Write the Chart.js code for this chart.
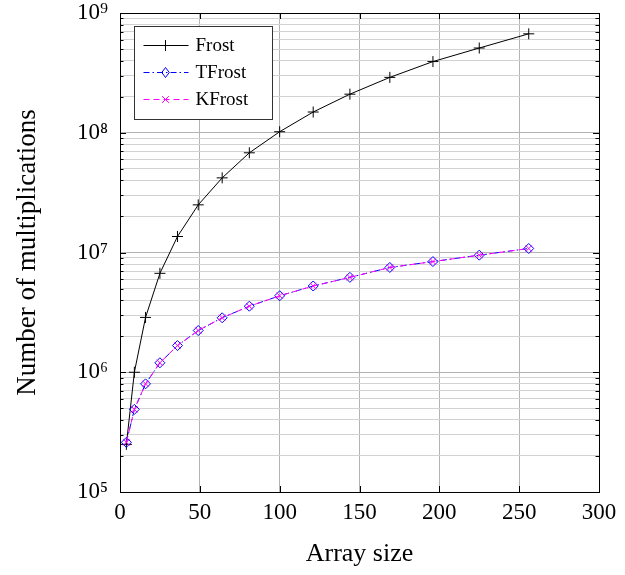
<!DOCTYPE html>
<html>
<head>
    <title>Number of multiplications vs array size</title>
    <script src="https://cdn.jsdelivr.net/npm/chart.js"></script>
    <style>
        body { margin: 0; background: #fff; }
    </style>
</head>
<body>
    <canvas id="multChart" width="625" height="575"></canvas>
<script>
    // values
    var arraySizes = [4, 9, 16, 25, 36, 49, 64, 81, 100, 121, 144, 169, 196, 225, 256];
    var frost  = [2.5e5, 1.0e6, 2.87e6, 6.7e6, 1.36e7, 2.5e7, 4.2e7, 6.8e7, 1.02e8, 1.49e8, 2.1e8, 2.9e8, 3.93e8, 5.1e8, 6.7e8];
    var tfrost = [2.6e5, 4.9e5, 8.0e5, 1.2e6, 1.67e6, 2.23e6, 2.85e6, 3.56e6, 4.35e6, 5.25e6, 6.2e6, 7.5e6, 8.4e6, 9.5e6, 1.08e7];
    var kfrost = [2.6e5, 4.9e5, 8.0e5, 1.2e6, 1.67e6, 2.23e6, 2.85e6, 3.56e6, 4.35e6, 5.25e6, 6.2e6, 7.5e6, 8.4e6, 9.5e6, 1.08e7];
    var yExponents = [5, 6, 7, 8, 9];
    var xTickValues = [0, 50, 100, 150, 200, 250, 300];

    var SERIF = "'Liberation Serif', 'DejaVu Serif', serif";
    var SUP = ['⁰', '¹', '²', '³', '⁴', '⁵', '⁶', '⁷', '⁸', '⁹'];

    function pairs(ys) {
        return arraySizes.map(function (x, i) { return {x: x, y: ys[i]}; });
    }

    function isDecade(v) {
        var e = Math.log10(v);
        return Math.abs(e - Math.round(e)) < 1e-9;
    }

    function drawMarker(ctx, style, x, y, r, color) {
        ctx.save();
        ctx.strokeStyle = color;
        ctx.lineWidth = 1;
        ctx.setLineDash([]);
        ctx.beginPath();
        if (style === 'cross') {
            ctx.moveTo(x - r, y); ctx.lineTo(x + r, y);
            ctx.moveTo(x, y - r); ctx.lineTo(x, y + r);
        } else if (style === 'crossRot') {
            var d = r * 0.75;
            ctx.moveTo(x - d, y - d); ctx.lineTo(x + d, y + d);
            ctx.moveTo(x - d, y + d); ctx.lineTo(x + d, y - d);
        } else {
            ctx.moveTo(x, y - r); ctx.lineTo(x + r * 0.75, y);
            ctx.lineTo(x, y + r); ctx.lineTo(x - r * 0.75, y);
            ctx.closePath();
        }
        ctx.stroke();
        ctx.restore();
    }

    // frame, inner tick marks and the legend box inside the plot
    var framePlugin = {
        id: 'frame',
        afterDatasetsDraw: function (chart) {
            var ctx = chart.ctx, a = chart.chartArea;
            var ys = chart.scales.y, xs = chart.scales.x;
            ctx.save();
            ctx.strokeStyle = '#000';
            ctx.lineWidth = 1;
            ctx.beginPath();
            ys.ticks.forEach(function (t) {
                var py = Math.round(ys.getPixelForValue(t.value)) + 0.5;
                var len = isDecade(t.value) ? 6 : 3.5;
                ctx.moveTo(a.left, py); ctx.lineTo(a.left + len, py);
                ctx.moveTo(a.right, py); ctx.lineTo(a.right - len, py);
            });
            xTickValues.forEach(function (v) {
                var px = Math.round(xs.getPixelForValue(v)) + 0.5;
                ctx.moveTo(px, a.bottom); ctx.lineTo(px, a.bottom - 6);
                ctx.moveTo(px, a.top); ctx.lineTo(px, a.top + 6);
            });
            ctx.stroke();
            ctx.strokeRect(Math.round(a.left) + 0.5, Math.round(a.top) + 0.5,
                Math.round(a.right - a.left), Math.round(a.bottom - a.top));

            // legend
            var bx = Math.round(a.left + 14) + 0.5, by = Math.round(a.top + 13) + 0.5;
            var bw = 138, bh = 93;
            ctx.fillStyle = '#fff';
            ctx.fillRect(bx, by, bw, bh);
            ctx.strokeStyle = '#333';
            ctx.strokeRect(bx, by, bw, bh);
            ctx.font = '19px ' + SERIF;
            ctx.textBaseline = 'middle';
            var dsList = chart.data.datasets;
            dsList.forEach(function (ds, i) {
                var ly = by + 19 + i * 27;
                ctx.save();
                ctx.strokeStyle = ds.borderColor;
                ctx.lineWidth = 1;
                ctx.setLineDash(ds.borderDash || []);
                ctx.beginPath();
                ctx.moveTo(bx + 9, ly); ctx.lineTo(bx + 54, ly);
                ctx.stroke();
                ctx.restore();
                drawMarker(ctx, ds.pointStyle, bx + 31, ly, ds.pointRadius, ds.borderColor);
                ctx.fillStyle = '#000';
                ctx.fillText(ds.label, bx + 61, ly + 1);
            });
            ctx.restore();
        }
    };

    var ctx = document.getElementById('multChart').getContext('2d');
    var multChart = new Chart(ctx, {
        type: 'line',
        data: {
            datasets: [{
                label: 'Frost',
                data: pairs(frost),
                borderColor: '#000',
                borderWidth: 1,
                pointStyle: 'cross',
                pointRadius: 5.5,
                pointBorderWidth: 1,
                order: 2
            }, {
                label: 'TFrost',
                data: pairs(tfrost),
                borderColor: '#0000ff',
                borderWidth: 1,
                borderDash: [6, 3, 1.5, 3],
                pointStyle: 'rectRot',
                pointRadius: 5,
                pointBorderWidth: 1,
                pointBackgroundColor: 'rgba(255,255,255,0)',
                order: 1
            }, {
                label: 'KFrost',
                data: pairs(kfrost),
                borderColor: '#ff00ff',
                borderWidth: 1,
                borderDash: [6, 4],
                pointStyle: 'crossRot',
                pointRadius: 4.5,
                pointBorderWidth: 1,
                order: 0
            }]
        },
        options: {
            responsive: false,
            animation: false,
            layout: { padding: { left: 0, right: 26, top: 13, bottom: 0 } },
            plugins: {
                legend: { display: false },
                tooltip: { enabled: false }
            },
            scales: {
                x: {
                    type: 'linear',
                    min: 0,
                    max: 300,
                    afterFit: function (scale) { scale.height = 83; },
                    ticks: {
                        stepSize: 50,
                        padding: 7,
                        color: '#000',
                        font: { family: SERIF, size: 23 }
                    },
                    grid: { color: '#b4b4b4', drawTicks: false },
                    border: { color: '#000' },
                    title: {
                        display: true,
                        text: 'Array size',
                        color: '#000',
                        font: { family: SERIF, size: 26 },
                        padding: { top: 10, bottom: 5 }
                    }
                },
                y: {
                    type: 'logarithmic',
                    min: 1e5,
                    max: 1e9,
                    afterFit: function (scale) {
                        scale.width = 120;
                        scale.paddingTop = 0;
                        scale.paddingBottom = 0;
                    },
                    afterBuildTicks: function (scale) {
                        var t = [];
                        yExponents.forEach(function (e) {
                            var last = e === yExponents[yExponents.length - 1];
                            for (var m = 1; m <= (last ? 1 : 9); m++) {
                                t.push({value: m * Math.pow(10, e)});
                            }
                        });
                        scale.ticks = t;
                    },
                    ticks: {
                        autoSkip: false,
                        padding: 12,
                        color: '#000',
                        font: { family: SERIF, size: 23 },
                        callback: function (v) {
                            if (!isDecade(v)) return '';
                            return '10' + SUP[Math.round(Math.log10(v))];
                        }
                    },
                    grid: {
                        drawTicks: false,
                        color: function (c) {
                            return c.tick && isDecade(c.tick.value) ? '#b4b4b4' : '#d2d2d2';
                        }
                    },
                    border: { color: '#000' },
                    title: {
                        display: true,
                        text: 'Number of multiplications',
                        color: '#000',
                        font: { family: SERIF, size: 27 },
                        padding: { top: 12, bottom: 0 }
                    }
                }
            }
        },
        plugins: [framePlugin]
    });
</script>
</body>
</html>
